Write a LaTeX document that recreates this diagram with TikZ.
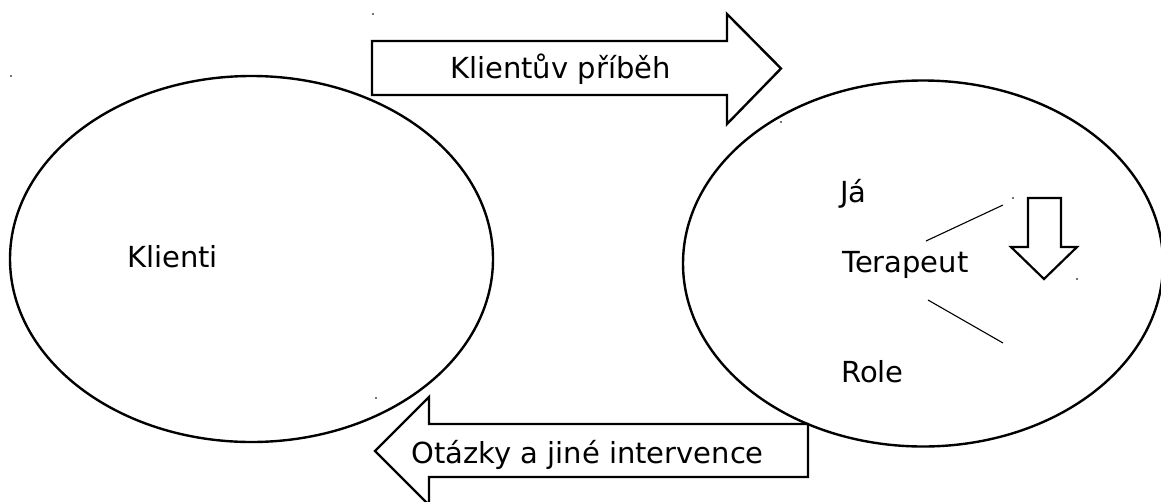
\documentclass[tikz,border=0pt]{standalone}
\usepackage{fontspec}
\setmainfont{DejaVu Sans}
\begin{document}
\begin{tikzpicture}[x=1pt,y=-1pt,
  outl/.style={draw=black,line width=2.4pt,fill=white,line join=miter},
  thinline/.style={draw=black,line width=1.1pt},
  lbl/.style={anchor=base west,inner sep=0pt,font=\fontsize{29}{33}\selectfont},
  tinydot/.style={fill=black!55,draw=none}]
\useasboundingbox (0,0) rectangle (1161,501);
\clip (0,0) rectangle (1161,501);
% ellipses
\draw[outl] (251.5,259) ellipse [x radius=241.5, y radius=183];
\draw[outl] (923,263.5) ellipse [x radius=240, y radius=183];
% top arrow
\draw[outl] (372,41) -- (727,41) -- (727,14) -- (781,68.5) -- (727,124) -- (727,95) -- (372,95) -- cycle;
% bottom arrow
\draw[outl] (808,424) -- (429,424) -- (429,397) -- (375,451) -- (429,505) -- (429,477) -- (808,477) -- cycle;
% small down arrow
\draw[outl,line width=2.2pt] (1028,198) -- (1061,198) -- (1061,247) -- (1077,247) -- (1044,279) -- (1011,247) -- (1028,247) -- cycle;
% texts
\node[lbl] (klienti) at (127,267) {Klienti};
\node[lbl] (pribeh) at (450,78) {Klientův příběh};
\node[lbl] (otazky) at (411,463) {Otázky a jiné intervence};
\node[lbl] (ja) at (840,202) {Já};
\node[lbl] (terapeut) at (842,272) {Terapeut};
\node[lbl] (role) at (841,382) {Role};
% thin lines
\coordinate (l1a) at (926,241);
\coordinate (l1b) at (1003,205);
\coordinate (l2a) at (928,300);
\coordinate (l2b) at (1003,343);
\draw[thinline] (l1a) -- (l1b);
\draw[thinline] (l2a) -- (l2b);
% tiny marks
\foreach \p in {(11,76),(373,14),(781,122),(376,398),(1013,198),(1077,279)}
  \fill[tinydot] \p ++(-0.6,-1.2) rectangle ++(1.2,2.4);
\end{tikzpicture}
\end{document}
